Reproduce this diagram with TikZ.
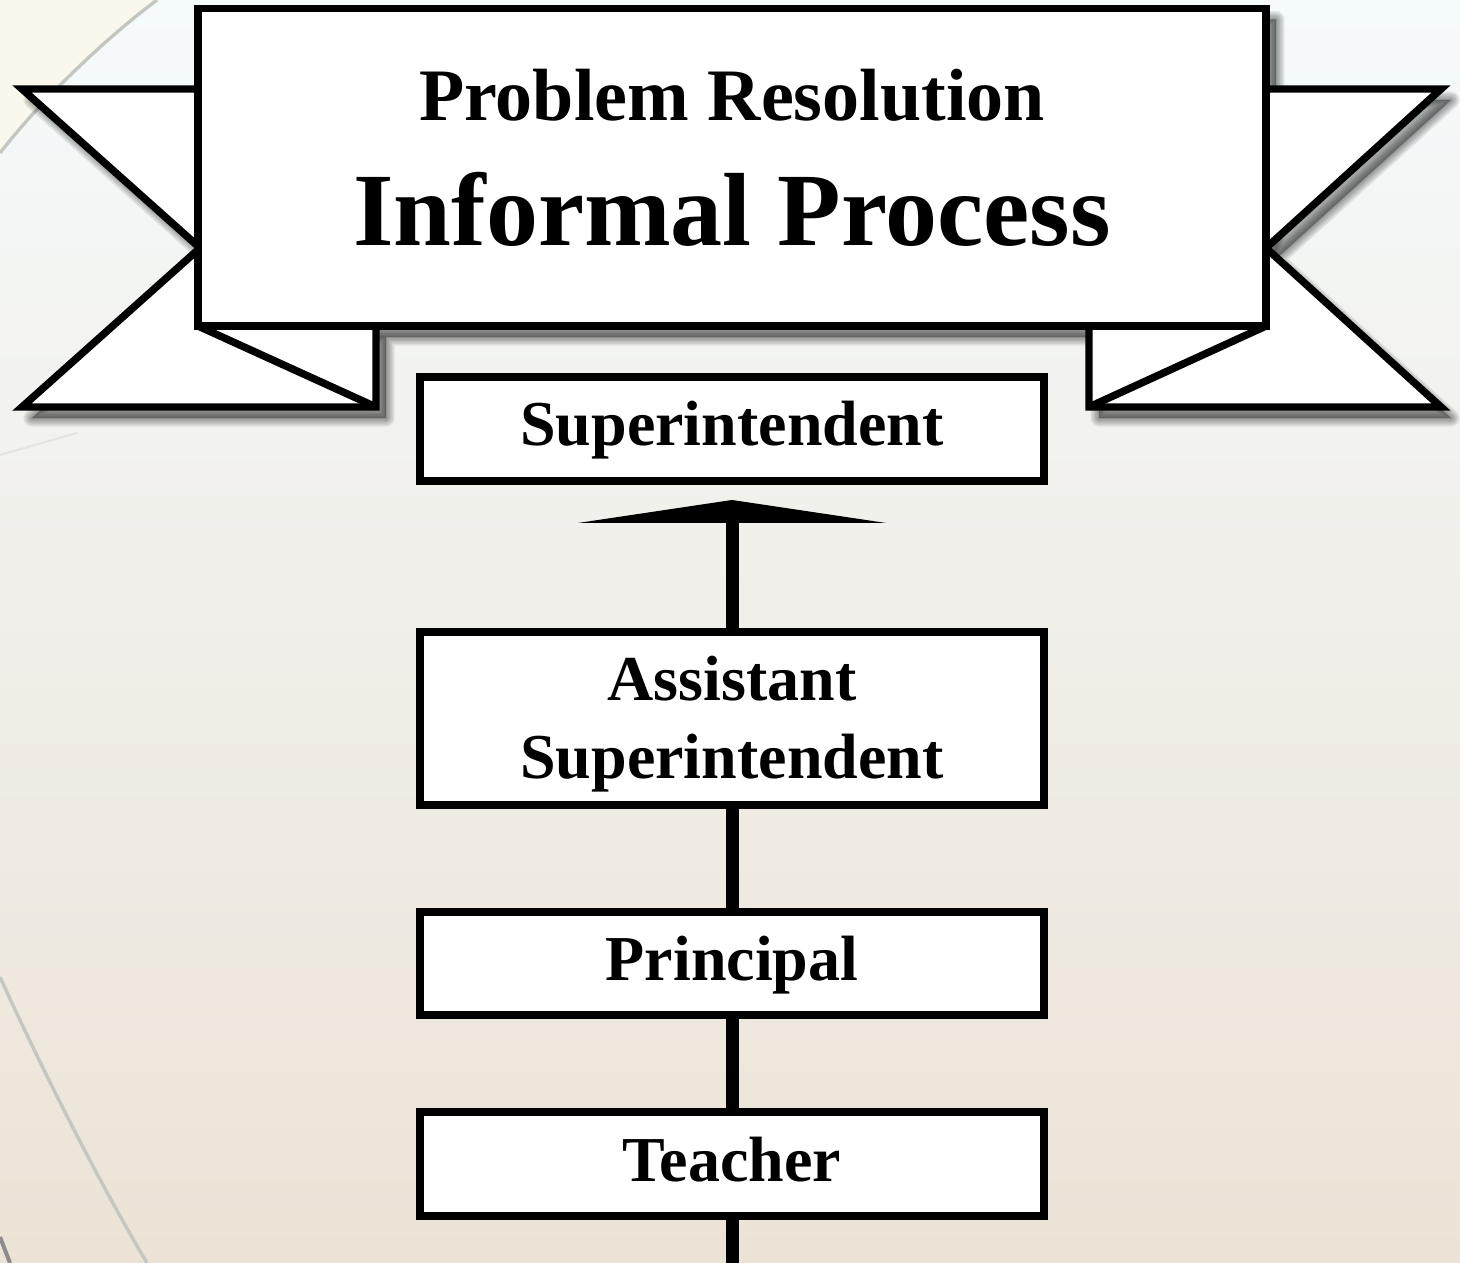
\documentclass[tikz,border=0pt]{standalone}
\usepackage{fontspec}
\setmainfont{Liberation Serif}
\usetikzlibrary{arrows.meta}

\definecolor{bgtop}{RGB}{245,250,251}
\definecolor{bgmid}{RGB}{242,243,233}
\definecolor{bgbot}{RGB}{236,227,214}
\definecolor{bgwarm}{RGB}{250,247,236}
\definecolor{swoosh}{RGB}{196,198,192}

% outlines of the two ribbon ends and of the banner
\newcommand{\ribbonleft}{(22,89) -- (200,248) -- (22,407) -- (376,407) -- (376,326) -- (198,326) -- (198,89) -- cycle}
\newcommand{\ribbonright}{(1441,89) -- (1266,248) -- (1441,407) -- (1089,407) -- (1089,326) -- (1266,326) -- (1266,89) -- cycle}
\newcommand{\bannerrect}{(198,8.5) rectangle (1266,326)}

\tikzset{
  ribbon/.style={fill=white, draw=black, line width=5.6pt},
  rank/.style={draw=black, line width=6pt, fill=white, minimum width=468pt, inner sep=0pt,
    font=\fontsize{48}{58.5}\selectfont\bfseries, text height=34.5pt, text depth=9pt, align=center},
  lnk/.style={line width=9.75pt},
}

\begin{document}
\begin{tikzpicture}[x=0.75pt,y=0.75pt,yscale=-1]
\useasboundingbox (0,0) rectangle (1460,1263);

% background
\shade[top color=bgtop, middle color=bgmid, bottom color=bgbot] (0,0) rectangle (1460,1263);
\fill[bgwarm] (0,0) -- (157,0) .. controls (110,35) and (45,95) .. (0,153) -- cycle;
\draw[swoosh, line width=2.5] (157,0) .. controls (110,35) and (45,95) .. (0,153);
\draw[swoosh, line width=1.5, opacity=0.3] (0,455) -- (77,433);
\draw[swoosh, line width=2.5] (0,977) .. controls (40,1065) and (95,1175) .. (147,1263);
\draw[black!45, line width=3] (0,1237) -- (10,1263);

% soft shadow under ribbon and banner
\begin{scope}[shift={(10,11)}]
\fill[black, opacity=0.33] \ribbonleft \ribbonright \bannerrect;
\foreach \w in {1.5pt,3.75pt,6pt,8.25pt,10.5pt,12.75pt}
  \draw[black, opacity=0.075, line width=\w, line join=round] \ribbonleft \ribbonright \bannerrect;
\end{scope}

% ribbon ends with their folds
\draw[ribbon] \ribbonleft;
\draw[line width=5.6pt] (198,326) -- (376,407);
\draw[ribbon] \ribbonright;
\draw[line width=5.6pt] (1266,326) -- (1089,407);

% banner
\draw[ribbon] \bannerrect;

% Text Node
\node[anchor=base, font=\fontsize{55.5}{60}\selectfont\bfseries] (subttl) at (732,120) {Problem Resolution};
% Text Node
\node[anchor=base, font=\fontsize{78}{84}\selectfont\bfseries] (ttl) at (732,245) {Informal Process};

% chain of offices
\node[rank, minimum height=78pt] (sup) at (732,428.5) {Superintendent};
\node[rank, minimum height=130pt, text height=97.9pt] (asst) at (732,718.75) {Assistant\\Superintendent};
\node[rank, minimum height=77.6pt] (prn) at (732,963.25) {Principal};
\node[rank, minimum height=78pt] (tch) at (732,1164) {Teacher};
\coordinate (tail) at (732,1275);

\draw[lnk, -{Triangle[length=17.25pt, width=231pt, line width=0pt]}, shorten >=11.6pt] (asst.north) -- (sup.south);
\draw[lnk] (asst.south) -- (prn.north);
\draw[lnk] (prn.south) -- (tch.north);
\draw[lnk] (tch.south) -- (tail);

\end{tikzpicture}
\end{document}
